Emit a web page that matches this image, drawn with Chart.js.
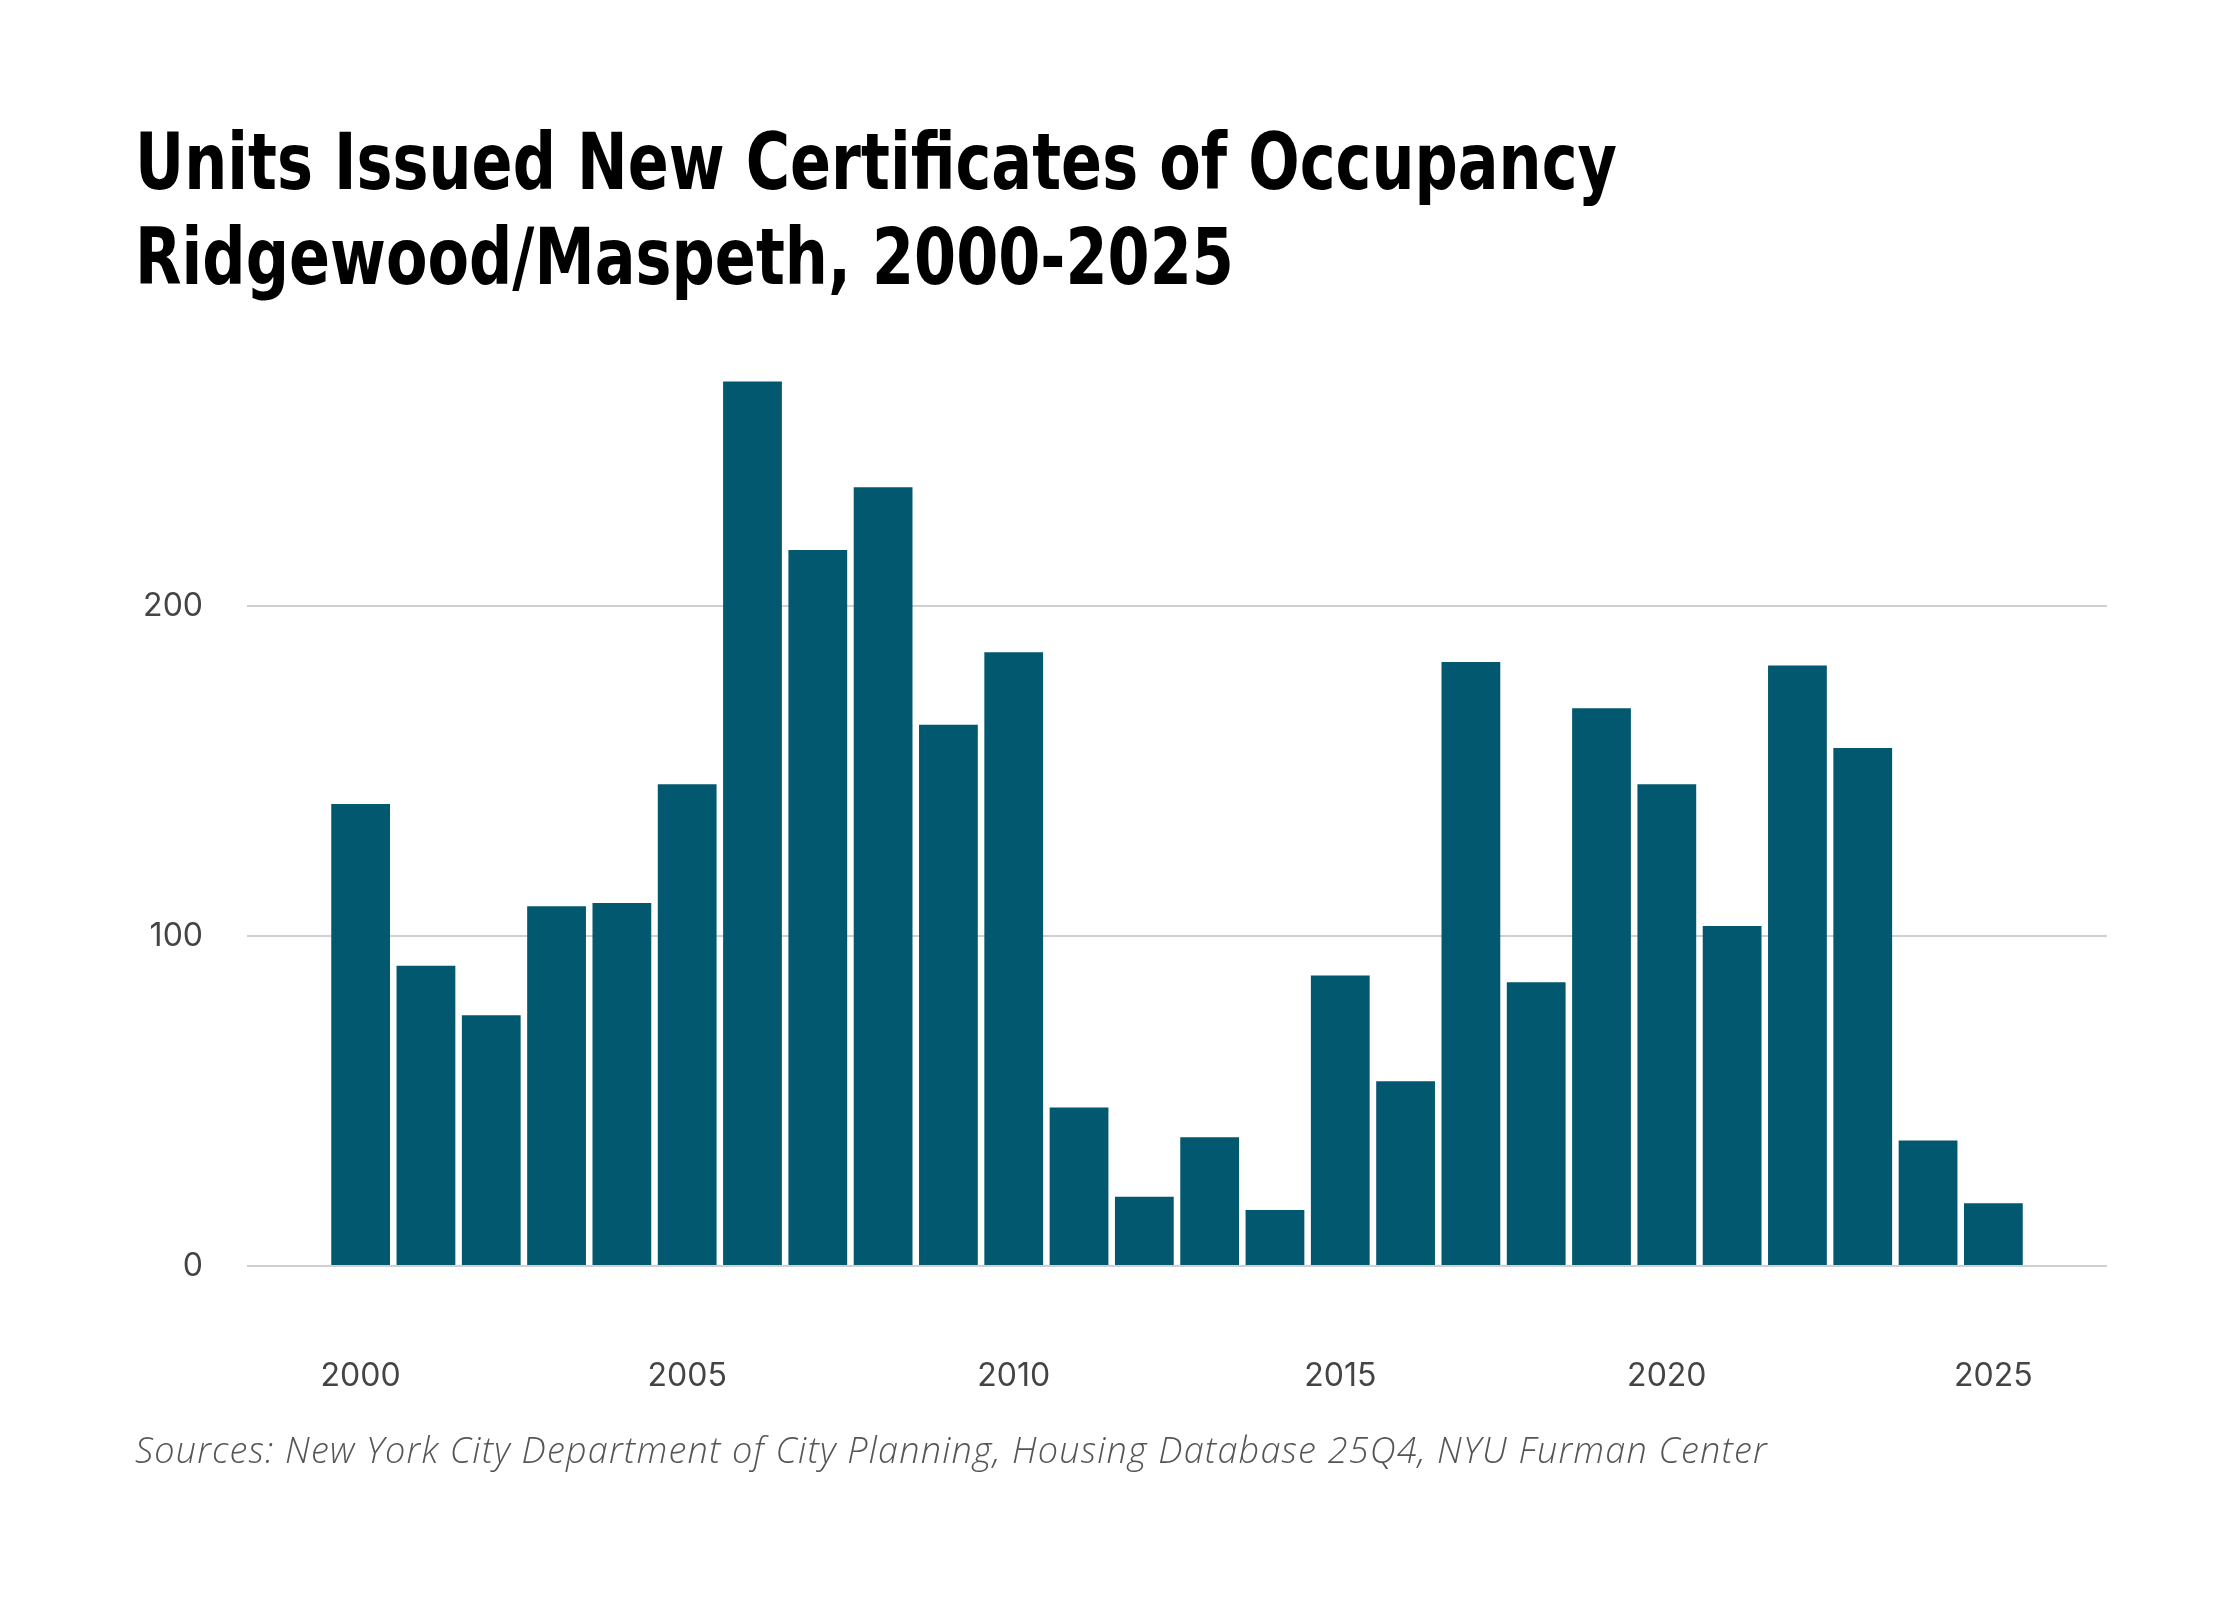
<!DOCTYPE html>
<html>
<head>
<meta charset="utf-8">
<script src="https://cdn.jsdelivr.net/npm/chart.js@4.4.1/dist/chart.umd.min.js"></script>
<style>
  html, body { margin: 0; padding: 0; background: #fff; }
  #wrap { width: 2240px; height: 1600px; }
</style>
</head>
<body>
<div id="wrap"><canvas id="myChart" width="2240" height="1600"></canvas></div>
<script>
const years = [2000, 2001, 2002, 2003, 2004, 2005, 2006, 2007, 2008, 2009, 2010, 2011, 2012,
    2013, 2014, 2015, 2016, 2017, 2018, 2019, 2020, 2021, 2022, 2023, 2024, 2025];
const units = [140, 91, 76, 109, 110, 146, 268, 217, 236, 164, 186, 48, 21,
    39, 17, 88, 56, 183, 86, 169, 146, 103, 182, 157, 38, 19];

const titleLines = ['Units Issued New Certificates of Occupancy', 'Ridgewood/Maspeth, 2000-2025'];
const sourceNote = 'Sources: New York City Department of City Planning, Housing Database 25Q4, NYU Furman Center';

const barColor = '#02586f';
const gridColor = '#d0d0d0';
const tickColor = '#444444';

// title (condensed bold) and source line, drawn on the same canvas
const textBlocks = {
    id: 'textBlocks',
    afterDraw(chart) {
        const ctx = chart.ctx;
        const left = chart.options.layout.padding.left;
        ctx.save();
        ctx.fillStyle = '#000000';
        ctx.textBaseline = 'alphabetic';
        ctx.textAlign = 'left';
        ctx.font = 'bold 78px "DejaVu Sans", sans-serif';
        // squeeze the first line to the width it has in the original
        const squeeze = 1482 / ctx.measureText(titleLines[0]).width;
        ctx.scale(squeeze, 1);
        titleLines.forEach((line, i) => {
            ctx.fillText(line, left / squeeze, 189 + i * 95);
        });
        ctx.restore();

        ctx.save();
        ctx.font = 'italic 300 36px "Open Sans", "Lato", sans-serif';
        ctx.letterSpacing = '1.2px';
        ctx.fillStyle = '#555555';
        ctx.textBaseline = 'alphabetic';
        ctx.textAlign = 'left';
        ctx.fillText(sourceNote, left, 1463);
        ctx.restore();
    }
};

const config = {
    type: 'bar',
    data: {
        datasets: [{
            label: 'Units',
            data: years.map((y, i) => ({ x: y, y: units[i] })),
            backgroundColor: barColor,
            borderWidth: 0,
            barPercentage: 0.9,
            categoryPercentage: 1
        }]
    },
    options: {
        responsive: false,
        animation: false,
        devicePixelRatio: 1,
        layout: {
            padding: { left: 135, right: 133, top: 342, bottom: 194 }
        },
        plugins: {
            legend: { display: false },
            tooltip: { enabled: false },
            title: { display: false }
        },
        scales: {
            x: {
                type: 'linear',
                offset: false,
                min: 1998.26,
                max: 2026.74,
                grid: { display: false, drawTicks: false, offset: false },
                border: { display: false },
                ticks: {
                    stepSize: 5,
                    includeBounds: false,
                    padding: 91,
                    color: tickColor,
                    font: { family: 'Inter, Lato, sans-serif', size: 32 },
                    callback: v => String(v)
                },
                afterFit(scale) { scale.height = 140; }
            },
            y: {
                min: 0,
                max: 280,
                grid: { color: gridColor, lineWidth: 2, drawTicks: false },
                border: { display: false },
                ticks: {
                    stepSize: 100,
                    includeBounds: false,
                    padding: 44,
                    color: tickColor,
                    font: { family: 'Inter, Lato, sans-serif', size: 32 },
                    callback: v => String(v)
                },
                afterFit(scale) { scale.width = 112; }
            }
        }
    },
    plugins: [textBlocks]
};

const ctx = document.getElementById('myChart').getContext('2d');
new Chart(ctx, config);
</script>
</body>
</html>
